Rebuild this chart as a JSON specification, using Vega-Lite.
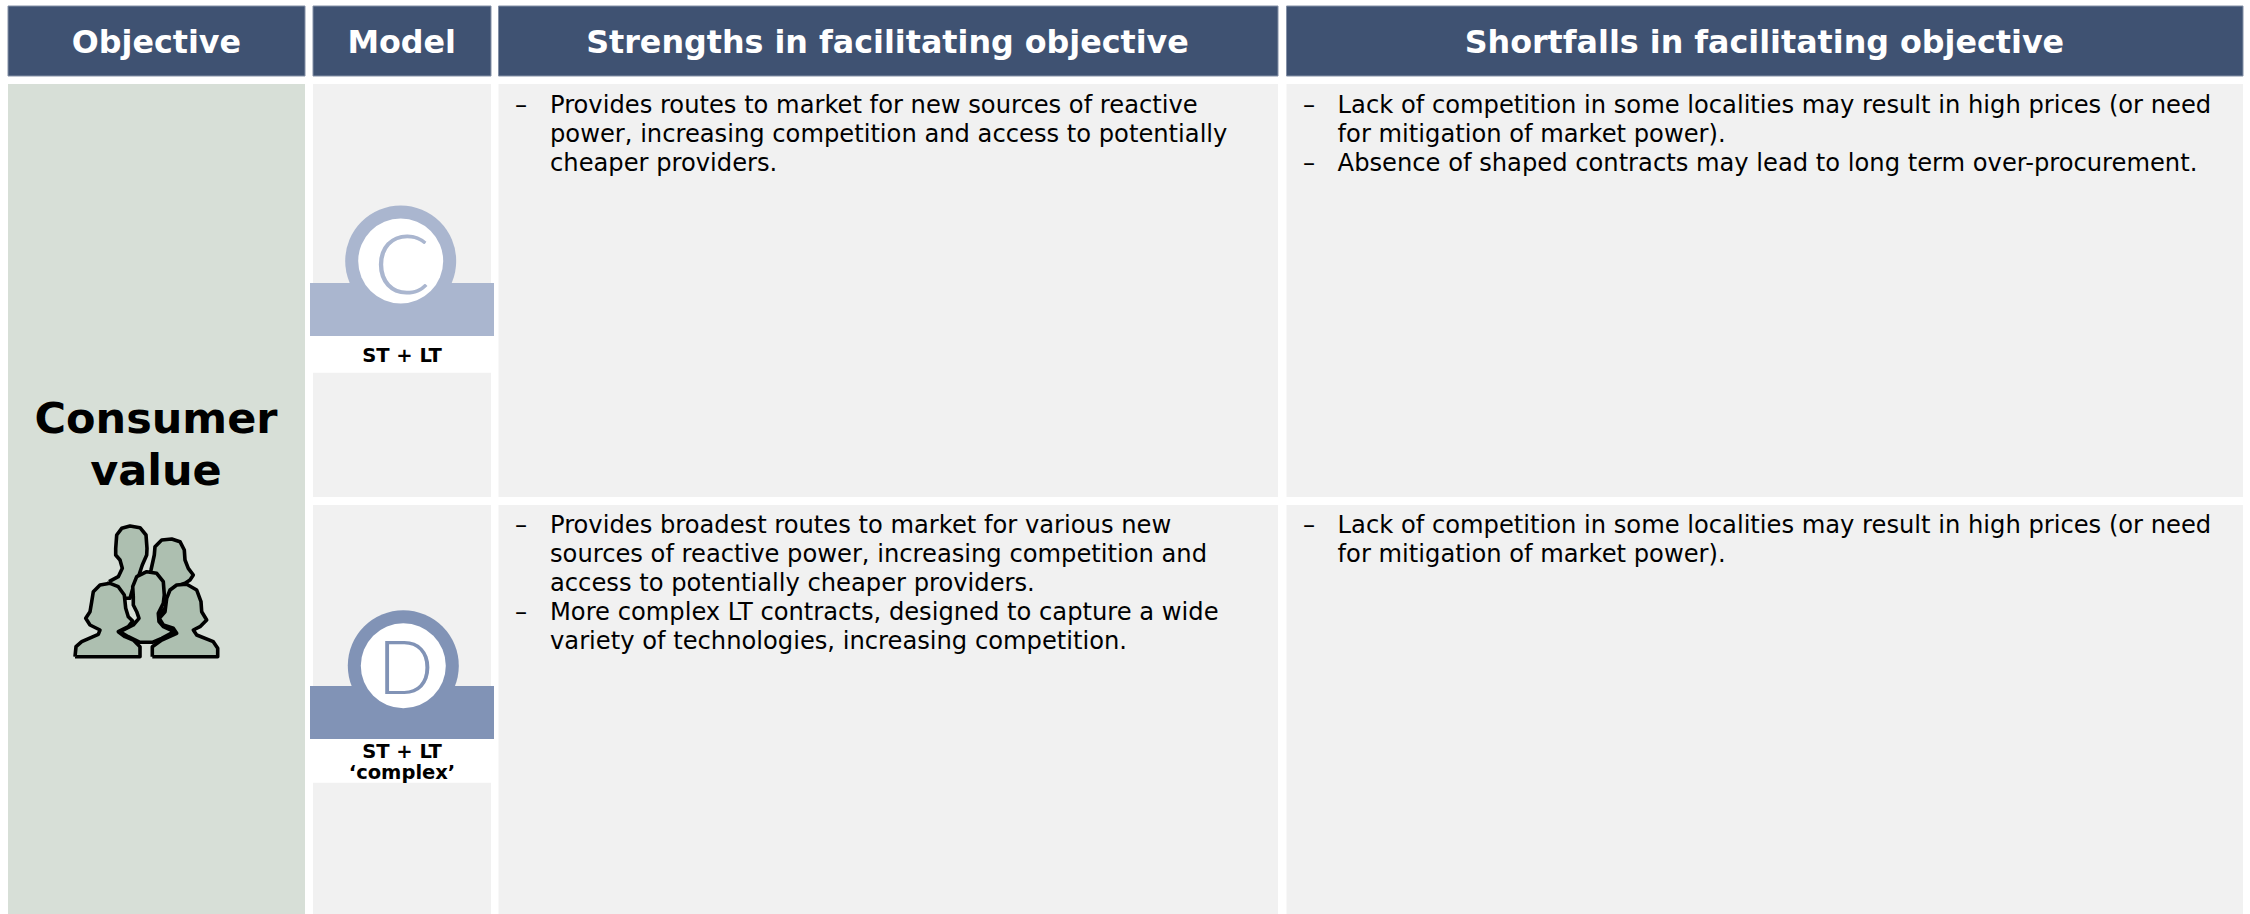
{"$schema":"https://vega.github.io/schema/vega-lite/v6.json","width":2250,"height":914,"padding":0,"autosize":"none","background":"#ffffff","config":{"view":{"stroke":null}},
"datasets":{
"cells":[
{"name":"Objective head","kind":"header","left":8,"right":305,"top":6,"bottom":76},
{"name":"Model head","kind":"header","left":313,"right":491,"top":6,"bottom":76},
{"name":"Strengths head","kind":"header","left":498.5,"right":1278,"top":6,"bottom":76},
{"name":"Shortfalls head","kind":"header","left":1286.5,"right":2243,"top":6,"bottom":76},
{"name":"Consumer value","kind":"objective","left":8,"right":305,"top":84,"bottom":914},
{"name":"Model C","kind":"cell","left":313,"right":491,"top":84,"bottom":497},
{"name":"Strengths C","kind":"cell","left":498.5,"right":1278,"top":84,"bottom":497},
{"name":"Shortfalls C","kind":"cell","left":1286.5,"right":2243,"top":84,"bottom":497},
{"name":"Model D","kind":"cell","left":313,"right":491,"top":505,"bottom":914},
{"name":"Strengths D","kind":"cell","left":498.5,"right":1278,"top":505,"bottom":914},
{"name":"Shortfalls D","kind":"cell","left":1286.5,"right":2243,"top":505,"bottom":914}],
"bands":[
{"name":"C band","kind":"bandC","left":310,"right":494,"top":283,"bottom":336},
{"name":"D band","kind":"bandD","left":310,"right":494,"top":686,"bottom":739},
{"name":"C label","kind":"blank","left":310,"right":494,"top":336,"bottom":372.7},
{"name":"D label","kind":"blank","left":310,"right":494,"top":739,"bottom":782.7}],
"rings":[
{"model":"C","ring":"outer","kind":"bandC","cx":400.7,"cy":261},
{"model":"D","ring":"outer","kind":"bandD","cx":403.3,"cy":665.7},
{"model":"C","ring":"inner","kind":"blank","cx":400.7,"cy":261},
{"model":"D","ring":"inner","kind":"blank","cx":403.3,"cy":665.7}],
"letters":[
{"t":"C","kind":"bandC","tx":402,"ty":293.5},
{"t":"D","kind":"bandD","tx":405.5,"ty":694.3}],
"heads":[
{"t":"Objective","tx":156.4,"ty":53.3},
{"t":"Model","tx":401.7,"ty":53.3},
{"t":"Strengths in facilitating objective","tx":887.5,"ty":53.3},
{"t":"Shortfalls in facilitating objective","tx":1764.4,"ty":53.3}],
"big":[
{"t":"Consumer","tx":156,"ty":433.3},
{"t":"value","tx":156,"ty":485}],
"tags":[
{"t":"ST + LT","tx":402,"ty":362.3},
{"t":"ST + LT","tx":402,"ty":758.3},
{"t":"‘complex’","tx":402,"ty":779.3}],
"body":[
{"t":"–","tx":515,"ty":113},
{"t":"Provides routes to market for new sources of reactive","tx":550,"ty":113},
{"t":"power, increasing competition and access to potentially","tx":550,"ty":142},
{"t":"cheaper providers.","tx":550,"ty":171},
{"t":"–","tx":1303,"ty":113},
{"t":"Lack of competition in some localities may result in high prices (or need","tx":1337.6,"ty":113},
{"t":"for mitigation of market power).","tx":1337.6,"ty":142},
{"t":"–","tx":1303,"ty":171},
{"t":"Absence of shaped contracts may lead to long term over-procurement.","tx":1337.6,"ty":171},
{"t":"–","tx":515,"ty":533.3},
{"t":"Provides broadest routes to market for various new","tx":550,"ty":533.3},
{"t":"sources of reactive power, increasing competition and","tx":550,"ty":562.3},
{"t":"access to potentially cheaper providers.","tx":550,"ty":591.3},
{"t":"–","tx":515,"ty":620.3},
{"t":"More complex LT contracts, designed to capture a wide","tx":550,"ty":620.3},
{"t":"variety of technologies, increasing competition.","tx":550,"ty":649.3},
{"t":"–","tx":1303,"ty":533.3},
{"t":"Lack of competition in some localities may result in high prices (or need","tx":1337.6,"ty":533.3},
{"t":"for mitigation of market power).","tx":1337.6,"ty":562.3}],
"people":[
{"p":"A","s":1,"ox":109,"oy":581.7},{"p":"A","s":2,"ox":118.3,"oy":576.7},{"p":"A","s":3,"ox":122.3,"oy":568.3},{"p":"A","s":4,"ox":120,"oy":560},{"p":"A","s":5,"ox":115.7,"oy":555},{"p":"A","s":6,"ox":115.7,"oy":548.3},{"p":"A","s":7,"ox":116.7,"oy":535},{"p":"A","s":8,"ox":121.7,"oy":528.3},{"p":"A","s":9,"ox":130,"oy":526},{"p":"A","s":10,"ox":140,"oy":527.7},{"p":"A","s":11,"ox":146,"oy":535},{"p":"A","s":12,"ox":147,"oy":548.3},{"p":"A","s":13,"ox":146.7,"oy":555},{"p":"A","s":14,"ox":142.3,"oy":565},{"p":"A","s":15,"ox":139,"oy":575},{"p":"A","s":16,"ox":133.3,"oy":586.7},{"p":"A","s":17,"ox":130,"oy":598.3},{"p":"A","s":18,"ox":115,"oy":598.3},{"p":"A","s":19,"ox":108.3,"oy":586.7},{"p":"A","s":20,"ox":109,"oy":581.7},
{"p":"B","s":1,"ox":151,"oy":570},{"p":"B","s":2,"ox":154.3,"oy":555},{"p":"B","s":3,"ox":155,"oy":546.7},{"p":"B","s":4,"ox":161.7,"oy":540},{"p":"B","s":5,"ox":171.7,"oy":539},{"p":"B","s":6,"ox":180,"oy":541.7},{"p":"B","s":7,"ox":184.3,"oy":550},{"p":"B","s":8,"ox":185,"oy":560},{"p":"B","s":9,"ox":188.3,"oy":568.3},{"p":"B","s":10,"ox":193.3,"oy":575},{"p":"B","s":11,"ox":190,"oy":580},{"p":"B","s":12,"ox":185,"oy":583.3},{"p":"B","s":13,"ox":175,"oy":586.7},{"p":"B","s":14,"ox":165,"oy":608.3},{"p":"B","s":15,"ox":160,"oy":613.3},{"p":"B","s":16,"ox":145,"oy":588.3},{"p":"B","s":17,"ox":151,"oy":570},
{"p":"D","s":1,"ox":120,"oy":631.7},{"p":"D","s":2,"ox":133.3,"oy":625},{"p":"D","s":3,"ox":139,"oy":618.3},{"p":"D","s":4,"ox":136.7,"oy":611.7},{"p":"D","s":5,"ox":133.3,"oy":605},{"p":"D","s":6,"ox":133.3,"oy":596.7},{"p":"D","s":7,"ox":132.7,"oy":586.7},{"p":"D","s":8,"ox":136.7,"oy":576.7},{"p":"D","s":9,"ox":146.7,"oy":571.7},{"p":"D","s":10,"ox":156.7,"oy":573.3},{"p":"D","s":11,"ox":163.3,"oy":581.7},{"p":"D","s":12,"ox":164.3,"oy":595},{"p":"D","s":13,"ox":163.3,"oy":603.3},{"p":"D","s":14,"ox":158.3,"oy":613.3},{"p":"D","s":15,"ox":159,"oy":621.7},{"p":"D","s":16,"ox":163.3,"oy":626.7},{"p":"D","s":17,"ox":174.3,"oy":631.7},{"p":"D","s":18,"ox":161.7,"oy":638.3},{"p":"D","s":19,"ox":152.3,"oy":642.3},{"p":"D","s":20,"ox":140,"oy":642.3},{"p":"D","s":21,"ox":128.3,"oy":636.7},{"p":"D","s":22,"ox":120,"oy":631.7},
{"p":"C","s":1,"ox":75,"oy":656.7},{"p":"C","s":2,"ox":76,"oy":646.7},{"p":"C","s":3,"ox":81.7,"oy":641.7},{"p":"C","s":4,"ox":98.3,"oy":634.3},{"p":"C","s":5,"ox":100,"oy":630},{"p":"C","s":6,"ox":90,"oy":625},{"p":"C","s":7,"ox":85.7,"oy":618.3},{"p":"C","s":8,"ox":90,"oy":611.7},{"p":"C","s":9,"ox":91.7,"oy":601.7},{"p":"C","s":10,"ox":93.3,"oy":591.7},{"p":"C","s":11,"ox":100,"oy":585},{"p":"C","s":12,"ox":110,"oy":583.3},{"p":"C","s":13,"ox":118.3,"oy":586.7},{"p":"C","s":14,"ox":124.3,"oy":595},{"p":"C","s":15,"ox":125.7,"oy":608.3},{"p":"C","s":16,"ox":128.3,"oy":616.7},{"p":"C","s":17,"ox":132.7,"oy":621},{"p":"C","s":18,"ox":128.3,"oy":626.7},{"p":"C","s":19,"ox":118.3,"oy":631.7},{"p":"C","s":20,"ox":125,"oy":636.7},{"p":"C","s":21,"ox":133.3,"oy":640},{"p":"C","s":22,"ox":140,"oy":646.7},{"p":"C","s":23,"ox":140,"oy":656.7},{"p":"C","s":24,"ox":75,"oy":656.7},
{"p":"E","s":1,"ox":152.3,"oy":656.7},{"p":"E","s":2,"ox":152.3,"oy":646.7},{"p":"E","s":3,"ox":161.7,"oy":640},{"p":"E","s":4,"ox":176.7,"oy":633.3},{"p":"E","s":5,"ox":173.3,"oy":628.3},{"p":"E","s":6,"ox":163.3,"oy":625},{"p":"E","s":7,"ox":159.3,"oy":618.3},{"p":"E","s":8,"ox":165,"oy":611.7},{"p":"E","s":9,"ox":166.7,"oy":598.3},{"p":"E","s":10,"ox":170,"oy":590},{"p":"E","s":11,"ox":176.7,"oy":585},{"p":"E","s":12,"ox":186.7,"oy":584.3},{"p":"E","s":13,"ox":196.7,"oy":590},{"p":"E","s":14,"ox":201,"oy":601.7},{"p":"E","s":15,"ox":201.7,"oy":611.7},{"p":"E","s":16,"ox":206.7,"oy":620},{"p":"E","s":17,"ox":200,"oy":626.7},{"p":"E","s":18,"ox":193.3,"oy":630},{"p":"E","s":19,"ox":196.7,"oy":635},{"p":"E","s":20,"ox":213.3,"oy":641.7},{"p":"E","s":21,"ox":217.7,"oy":648.3},{"p":"E","s":22,"ox":217.7,"oy":656.7},{"p":"E","s":23,"ox":152.3,"oy":656.7}]
},
"resolve":{"scale":{"color":"shared"}},
"layer":[
{"data":{"name":"cells"},"mark":{"type":"rect","strokeWidth":0},"encoding":{"x":{"field":"left","type":"quantitative","axis":null,"scale":{"domain":[0,2250],"nice":false,"zero":false}},"x2":{"field":"right"},"y":{"field":"top","type":"quantitative","axis":null,"scale":{"domain":[914,0],"nice":false,"zero":false}},"y2":{"field":"bottom"},"color":{"field":"kind","type":"nominal","legend":null,"scale":{"domain":["header","objective","cell","blank","bandC","bandD"],"range":["#3F5272","#D7DFD7","#F1F1F1","#FFFFFF","#AAB6CF","#8193B6"]}}}},
{"data":{"name":"cells"},"transform":[{"filter":"datum.kind==='header'"}],"mark":{"type":"rect","fill":null,"stroke":"#8490A6","strokeWidth":1},"encoding":{"x":{"field":"left","type":"quantitative"},"x2":{"field":"right"},"y":{"field":"top","type":"quantitative"},"y2":{"field":"bottom"}}},
{"data":{"name":"rings"},"transform":[{"filter":"datum.ring==='outer'"}],"mark":{"type":"point","filled":true,"opacity":1},"encoding":{"x":{"field":"cx","type":"quantitative"},"y":{"field":"cy","type":"quantitative"},"color":{"field":"kind","type":"nominal","legend":null},"size":{"value":12321}}},
{"data":{"name":"bands"},"mark":{"type":"rect","strokeWidth":0},"encoding":{"x":{"field":"left","type":"quantitative"},"x2":{"field":"right"},"y":{"field":"top","type":"quantitative"},"y2":{"field":"bottom"},"color":{"field":"kind","type":"nominal","legend":null}}},
{"data":{"name":"rings"},"transform":[{"filter":"datum.ring==='inner'"}],"mark":{"type":"point","filled":true,"opacity":1},"encoding":{"x":{"field":"cx","type":"quantitative"},"y":{"field":"cy","type":"quantitative"},"color":{"field":"kind","type":"nominal","legend":null},"size":{"value":7225}}},
{"data":{"name":"letters"},"mark":{"type":"text","font":"Lato","fontWeight":300,"align":"center","baseline":"alphabetic"},"encoding":{"x":{"field":"tx","type":"quantitative"},"y":{"field":"ty","type":"quantitative"},"text":{"field":"t"},"color":{"field":"kind","type":"nominal","legend":null},"size":{"field":"t","type":"nominal","legend":null,"scale":{"domain":["C","D"],"range":[83,74]}}}},
{"data":{"name":"heads"},"mark":{"type":"text","font":"DejaVu Sans","fontWeight":"bold","fontSize":31.75,"align":"center","baseline":"alphabetic","color":"#FFFFFF"},"encoding":{"x":{"field":"tx","type":"quantitative"},"y":{"field":"ty","type":"quantitative"},"text":{"field":"t"}}},
{"data":{"name":"big"},"mark":{"type":"text","font":"DejaVu Sans","fontWeight":"bold","fontSize":43,"align":"center","baseline":"alphabetic","color":"#000000"},"encoding":{"x":{"field":"tx","type":"quantitative"},"y":{"field":"ty","type":"quantitative"},"text":{"field":"t"}}},
{"data":{"name":"tags"},"mark":{"type":"text","font":"DejaVu Sans","fontWeight":"bold","fontSize":19.5,"align":"center","baseline":"alphabetic","color":"#000000"},"encoding":{"x":{"field":"tx","type":"quantitative"},"y":{"field":"ty","type":"quantitative"},"text":{"field":"t"}}},
{"data":{"name":"body"},"mark":{"type":"text","font":"DejaVu Sans","fontSize":24.2,"align":"left","baseline":"alphabetic","color":"#000000"},"encoding":{"x":{"field":"tx","type":"quantitative"},"y":{"field":"ty","type":"quantitative"},"text":{"field":"t"}}},
{"data":{"name":"people"},"mark":{"type":"line","interpolate":"linear","fill":"#ADBFB0","stroke":"#000000","strokeWidth":3.6,"strokeJoin":"round"},"encoding":{"x":{"field":"ox","type":"quantitative"},"y":{"field":"oy","type":"quantitative"},"order":{"field":"s","type":"quantitative"},"detail":{"field":"p"}}}
]}
